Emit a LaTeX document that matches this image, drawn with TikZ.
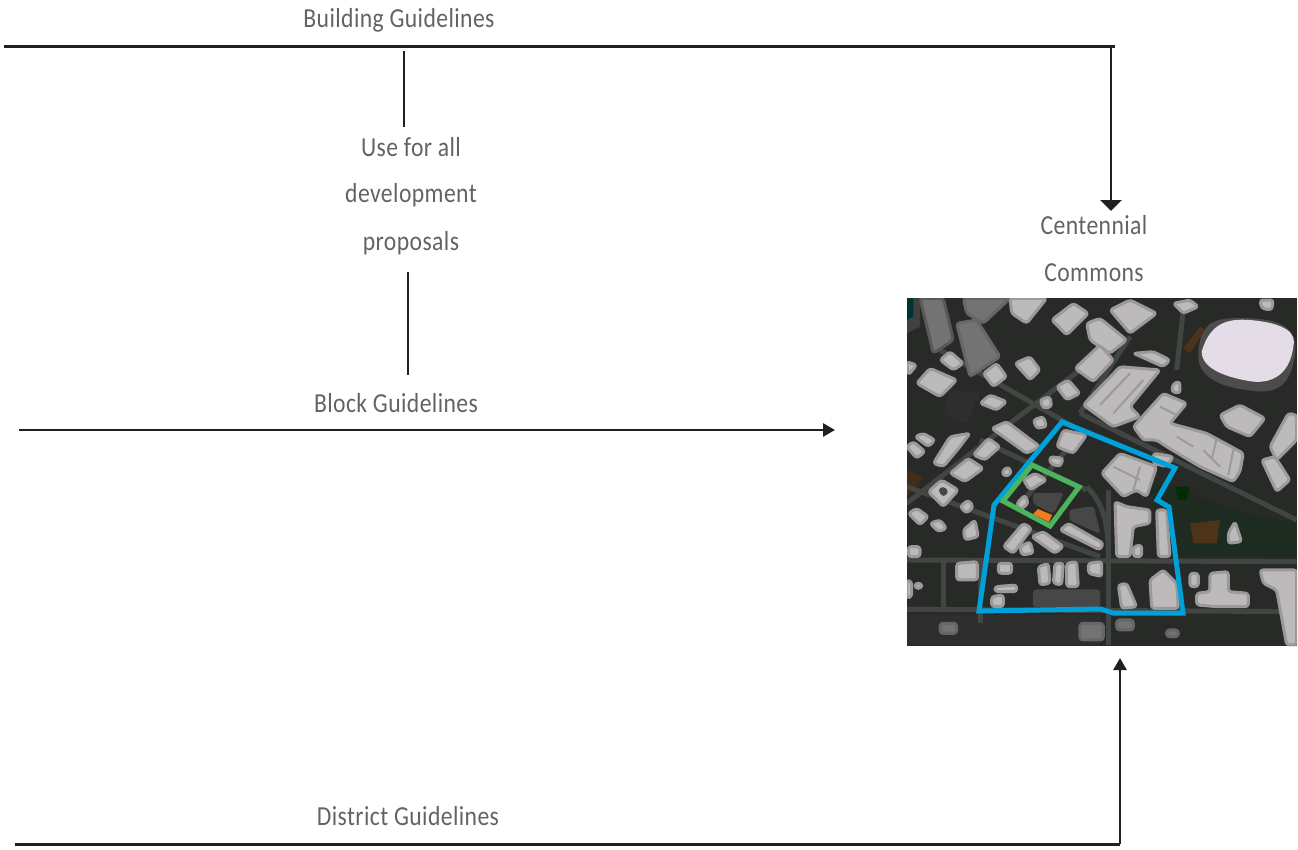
\documentclass[tikz,border=0pt]{standalone}
\usepackage{fontspec}
\setmainfont[LetterSpace=1.5,FakeStretch=0.86]{Carlito}
\usetikzlibrary{arrows.meta}
\definecolor{txt}{HTML}{626464}
\definecolor{ln}{HTML}{231F20}
\definecolor{ground}{HTML}{272A27}
\definecolor{roof}{HTML}{BDBABB}
\definecolor{roofb}{HTML}{9C999A}
\definecolor{street}{HTML}{414642}
\definecolor{park}{HTML}{1E2B20}
\definecolor{bluel}{HTML}{00A0DB}
\definecolor{greenl}{HTML}{4DB45E}
\definecolor{orangef}{HTML}{F47A20}
\definecolor{dome}{HTML}{E4DDE8}
\tikzset{
 label/.style={font=\fontsize{27.5}{27.5}\selectfont,text=txt,inner sep=0pt,anchor=center},
 rule/.style={draw=ln,line width=3pt},
 thin rule/.style={draw=ln,line width=2.8pt},
 big tip/.style={-{Triangle[length=11pt,width=21pt]}},
 small tip/.style={-{Triangle[length=12pt,width=13pt]}},
 bd/.style={fill=roof,draw=roofb,line width=3pt,rounded corners=3pt,line join=round},
 bdd/.style={bd,fill=black!55,draw=black!60},
 bdt/.style={bd,fill=black!55,draw=black!65},
 bds/.style={bd,fill=black!72,draw=black!72,line width=1pt},
 road/.style={draw=street,line width=5pt},
 seam/.style={draw=roofb,line width=2pt},
 outlineb/.style={draw=bluel,line width=5pt,miter limit=10},
 outlineg/.style={draw=greenl,line width=5pt},
}
\begin{document}
\begin{tikzpicture}[x=1pt,y=-1pt]
\useasboundingbox (0,0) rectangle (1298,849);
% connector ends
\coordinate (tl) at (4,46);
\coordinate (tr) at (1115,46);
\coordinate (drop) at (1111,46);
\coordinate (dropend) at (1111,211);
\coordinate (s1a) at (404,51);
\coordinate (s1b) at (404,127);
\coordinate (s2a) at (408,272);
\coordinate (s2b) at (408,375);
\coordinate (bl) at (19,430);
\coordinate (br) at (835,430);
\coordinate (dl) at (15,844);
\coordinate (dr) at (1120,844);
\coordinate (dup) at (1120,658);
% labels
\node[label] (building) at (399,20) {Building Guidelines};
\node[label] (use1) at (411,147) {Use for all};
\node[label] (use2) at (411,195) {development};
\node[label] (use3) at (411,243) {proposals};
\node[label] (block) at (396,403) {Block Guidelines};
\node[label] (district) at (408,816) {District Guidelines};
\node[label] (cent) at (1094,225) {Centennial};
\node[label] (comm) at (1094,273) {Commons};
% connectors
\draw[rule] (tl) -- (tr);
\draw[thin rule,big tip] (drop) -- (dropend);
\draw[thin rule] (s1a) -- (s1b);
\draw[thin rule] (s2a) -- (s2b);
\draw[thin rule,small tip] (bl) -- (br);
\draw[rule] (dl) -- (dr);
\draw[thin rule,small tip] (dr) -- (dup);
% aerial photograph
\node[fill=ground,minimum width=390pt,minimum height=348pt,inner sep=0pt,anchor=north west] (photo) at (907,298) {};
\begin{scope}
\clip (907,298) rectangle (1297,646);
\begin{scope}[shift={(900,290)},x=0.3333pt,y=-0.3333pt]
% parks and dark patches
\fill[black!82] (20,975) rectangle (600,1065);
\fill[black!82] (150,300) -- (240,310) -- (200,400) -- (130,370) -- cycle;
\fill[park] (640,570) -- (820,590) -- (1000,660) -- (1190,700) -- (1190,800) -- (840,800) -- (810,640) -- cycle;
\fill[black!40!green!30!black] (825,590) -- (870,590) -- (860,630) -- (835,630) -- cycle;
\fill[brown!40!black] (870,700) -- (960,690) -- (950,760) -- (880,760) -- cycle;
\fill[brown!35!black] (20,540) -- (70,560) -- (20,620) -- cycle;
\fill[black!75] (20,25) -- (60,25) -- (60,110) -- (20,130) -- cycle;
\fill[teal!40!black] (20,25) -- (40,25) -- (40,80) -- (20,90) -- cycle;
% streets
\draw[road] (20,810) -- (1190,815);
\draw[road] (20,958) -- (1190,965);
\draw[road] (625,600) -- (625,1065);
\draw[road] (20,640) -- (330,400) -- (540,240);
\draw[road] (20,590) -- (600,800);
\draw[road] (540,370) -- (1190,690);
\draw[road] (560,590) .. controls (610,640) and (625,700) .. (625,800);
\draw[road] (850,60) -- (830,240);
\draw[road] (120,180) -- (520,410);
\draw[road] (690,140) -- (540,370);
\draw[road] (240,450) -- (560,600);
\draw[road] (380,620) -- (500,480);
\draw[road] (240,810) -- (240,1000);
\draw[road] (130,810) -- (130,960);
% towers
\path[bdt] plot coordinates {(60,25) (130,25) (160,150) (100,190)} -- cycle;
\path[bdd] plot coordinates {(170,100) (230,90) (300,200) (210,260)} -- cycle;
\path[bdd] plot coordinates {(190,25) (330,25) (250,100) (200,70)} -- cycle;
% stadium
\path[fill=black!70] (895,190) .. controls (900,90) and (950,80) .. (1050,85) .. controls (1180,90) and (1200,140) .. (1180,220) .. controls (1160,310) and (1100,310) .. (1040,300) .. controls (960,290) and (890,260) .. (895,190) -- cycle;
\path[fill=dome] (905,185) .. controls (930,100) and (980,85) .. (1050,90) .. controls (1160,100) and (1190,130) .. (1180,170) .. controls (1170,250) and (1120,280) .. (1060,275) .. controls (990,265) and (905,240) .. (905,185) -- cycle;
\path[fill=brown!40!black] (850,175) -- (900,110) -- (915,120) -- (870,190) -- cycle;
% top area
\path[bd] plot coordinates {(330,25) (440,25) (380,100) (335,70)} -- cycle;
\path[bd] plot coordinates {(455,90) (520,40) (565,70) (500,135)} -- cycle;
\path[bd] plot coordinates {(560,100) (600,85) (680,150) (630,190) (570,150)} -- cycle;
\path[bd] plot coordinates {(630,60) (690,30) (770,70) (690,130)} -- cycle;
\path[bd] plot coordinates {(820,40) (870,30) (895,50) (850,70)} -- cycle;
\path[bd] plot coordinates {(1080,30) (1120,30) (1115,60) (1085,55)} -- cycle;
\path[bd] plot coordinates {(525,235) (600,165) (640,210) (580,275)} -- cycle;
\path[bd] plot coordinates {(550,345) (660,230) (780,240) (690,350) (720,380) (640,410)} -- cycle;
\draw[seam] (600,345) -- (690,250);
\draw[seam] (640,370) -- (730,270);
\path[bd] plot coordinates {(700,190) (760,185) (810,210) (790,230)} -- cycle;
\path[bd] plot coordinates {(700,410) (790,310) (860,340) (810,400) (920,430) (1030,490) (1020,545) (1000,575) (900,530) (800,470) (770,450) (730,450)} -- cycle;
\draw[seam] (780,350) -- (830,375);
\draw[seam] (830,440) -- (880,470);
\draw[seam] (910,480) -- (960,530);
\draw[seam] (950,445) -- (935,510);
\draw[seam] (1000,480) -- (985,555);
\path[bd] plot coordinates {(960,375) (1020,345) (1095,385) (1050,440) (980,410)} -- cycle;
\path[bd] plot coordinates {(1110,470) (1165,370) (1190,375) (1190,450) (1130,510)} -- cycle;
\path[bd] plot coordinates {(1085,510) (1125,500) (1170,570) (1130,605)} -- cycle;
\path[bd] plot coordinates {(605,550) (660,490) (770,530) (740,620) (710,600) (670,620)} -- cycle;
\draw[seam] (640,530) -- (720,570);
\draw[seam] (720,530) -- (700,600);
\path[bd] plot coordinates {(820,280) (840,275) (840,310) (815,305)} -- cycle;
\path[bd] plot coordinates {(760,490) (820,500) (800,530) (760,520)} -- cycle;
% left area
\path[bd] plot coordinates {(50,280) (90,235) (170,270) (120,320)} -- cycle;
\path[bd] plot coordinates {(120,210) (150,185) (190,220) (160,240)} -- cycle;
\path[bd] plot coordinates {(20,215) (50,225) (25,255)} -- cycle;
\path[bd] plot coordinates {(250,250) (290,220) (320,260) (280,290)} -- cycle;
\path[bd] plot coordinates {(345,220) (390,200) (420,240) (390,270)} -- cycle;
\path[bd] plot coordinates {(240,340) (270,315) (320,335) (290,360)} -- cycle;
\path[bd] plot coordinates {(470,290) (505,270) (540,310) (500,330)} -- cycle;
\path[bd] plot coordinates {(420,330) (450,320) (455,350) (430,355)} -- cycle;
\path[bd] plot coordinates {(275,415) (320,395) (420,470) (380,490)} -- cycle;
\path[bd] plot coordinates {(400,390) (430,380) (440,410) (410,415)} -- cycle;
\path[bd] plot coordinates {(100,520) (150,440) (210,430) (180,470) (130,530)} -- cycle;
\path[bd] plot coordinates {(220,495) (265,445) (300,470) (255,510)} -- cycle;
\path[bd] plot coordinates {(150,550) (205,505) (250,535) (195,575)} -- cycle;
\path[bd] plot coordinates {(85,605) (125,570) (175,600) (130,650)} -- cycle;
\path[bds] plot coordinates {(115,600) (130,590) (145,605) (130,620)} -- cycle;
\path[bd] plot coordinates {(20,470) (40,455) (75,485) (50,505)} -- cycle;
\path[bd] plot coordinates {(45,440) (70,430) (105,450) (85,470)} -- cycle;
\path[bd] plot coordinates {(305,545) (325,530) (335,550) (315,560)} -- cycle;
\path[bd] plot coordinates {(180,650) (205,630) (220,650) (200,670)} -- cycle;
\path[bd] plot coordinates {(25,670) (50,655) (85,680) (60,705)} -- cycle;
\path[bd] plot coordinates {(90,700) (120,690) (140,715) (115,725)} -- cycle;
\path[bd] plot coordinates {(190,720) (225,690) (235,740) (195,750)} -- cycle;
\path[bd] plot coordinates {(25,770) (60,770) (60,800) (25,800)} -- cycle;
% inside outlines
\path[bd] plot coordinates {(490,420) (560,435) (520,490) (470,470)} -- cycle;
\path[bd] plot coordinates {(450,500) (490,505) (480,530) (450,520)} -- cycle;
\path[bd] plot coordinates {(370,570) (405,550) (440,570) (390,600)} -- cycle;
\path[bd] plot coordinates {(350,640) (375,615) (385,640) (360,660)} -- cycle;
\path[bds] plot coordinates {(400,610) (490,610) (460,670) (400,640)} -- cycle;
\path[bds] plot coordinates {(510,660) (580,650) (600,730) (510,690)} -- cycle;
\path[bd] plot coordinates {(310,770) (370,700) (395,715) (340,790)} -- cycle;
\path[bd] plot coordinates {(360,770) (390,755) (400,790) (365,795)} -- cycle;
\path[bd] plot coordinates {(395,740) (430,725) (490,770) (465,790)} -- cycle;
\path[bd] plot coordinates {(480,720) (505,700) (610,760) (600,780)} -- cycle;
% bottom row
\path[bds] plot coordinates {(400,900) (600,900) (600,950) (400,950)} -- cycle;
\path[bd] plot coordinates {(170,820) (232,815) (232,870) (170,870)} -- cycle;
\path[bd] plot coordinates {(295,820) (335,820) (335,850) (295,850)} -- cycle;
\path[bd] plot coordinates {(415,830) (445,820) (450,880) (420,885)} -- cycle;
\path[bd] plot coordinates {(465,820) (490,820) (485,885) (460,880)} -- cycle;
\path[bd] plot coordinates {(500,820) (530,815) (535,890) (500,890)} -- cycle;
\path[bd] plot coordinates {(565,820) (605,815) (605,860) (565,850)} -- cycle;
\path[bd] plot coordinates {(285,890) (350,885) (350,905) (285,905)} -- cycle;
\path[bd] plot coordinates {(275,920) (310,915) (310,950) (275,950)} -- cycle;
\path[bd] plot coordinates {(20,870) (35,875) (35,920) (20,925)} -- cycle;
\path[bd] plot coordinates {(45,880) (65,880) (65,895) (45,895)} -- cycle;
% right of the road
\path[bd] plot coordinates {(645,635) (680,650) (750,660) (750,700) (700,710) (690,800) (650,800)} -- cycle;
\path[bd] plot coordinates {(770,660) (800,660) (810,800) (775,800)} -- cycle;
\path[bd] plot coordinates {(700,770) (725,765) (725,800) (700,800)} -- cycle;
\path[bd] plot coordinates {(750,870) (790,840) (830,880) (835,955) (755,955)} -- cycle;
\path[bd] plot coordinates {(655,885) (680,880) (710,950) (665,955)} -- cycle;
\path[bd] plot coordinates {(890,910) (930,905) (930,850) (985,845) (985,905) (1045,910) (1045,950) (950,950) (890,945)} -- cycle;
\path[bd] plot coordinates {(1080,840) (1190,840) (1190,1065) (1160,1065) (1130,900) (1090,880)} -- cycle;
\path[bd] plot coordinates {(985,730) (1005,695) (1025,755) (985,760)} -- cycle;
\path[bd] plot coordinates {(870,850) (895,850) (895,890) (870,890)} -- cycle;
\path[bdd] plot coordinates {(540,1000) (610,1000) (610,1050) (540,1050)} -- cycle;
\path[bdd] plot coordinates {(800,1020) (835,1020) (835,1040) (800,1040)} -- cycle;
\path[bdd] plot coordinates {(650,990) (700,990) (700,1020) (650,1020)} -- cycle;
\path[bdd] plot coordinates {(120,1000) (170,1000) (170,1030) (120,1030)} -- cycle;
\end{scope}
\end{scope}
% outlines
\draw[outlineb] (1062,422) -- (1175,468) -- (1157,500) -- (1169,507) -- (1183,613) -- (1113,613) -- (1101,609) -- (979,611) -- (994,505) -- cycle;
\draw[outlineg] (1032,465) -- (1079,487) -- (1050,526) -- (1003,501) -- cycle;
\fill[orangef] (1038,509) -- (1052,515) -- (1049,522) -- (1033,514) -- cycle;
\end{tikzpicture}
\end{document}
